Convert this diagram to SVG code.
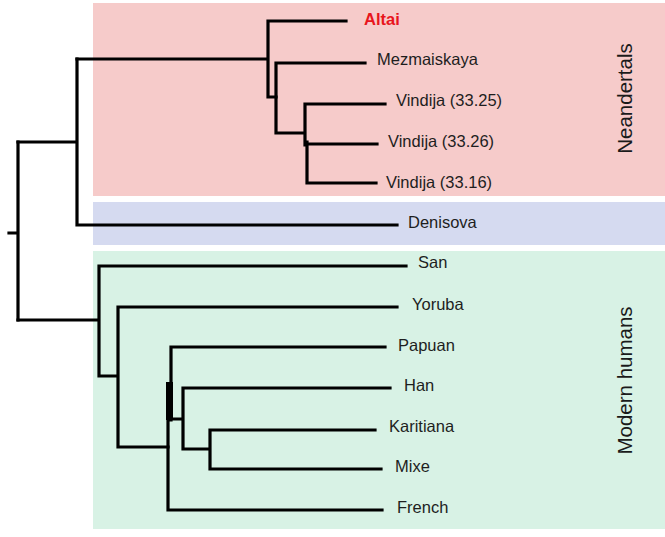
<svg xmlns="http://www.w3.org/2000/svg" width="665" height="537" viewBox="0 0 665 537">
<style>
.br{fill:none;stroke:#000;stroke-width:3.2;stroke-linejoin:miter;stroke-linecap:square}
.lb{font-family:"Liberation Sans",Arial,sans-serif;font-size:16.5px;fill:#1e1e1e}
.grp{font-family:"Liberation Sans",Arial,sans-serif;font-size:20.5px;fill:#1a1a1a}
</style>
<rect width="665" height="537" fill="#fff"/>
<g id="bands">
<rect x="93" y="3" width="572" height="193" fill="#f6cbca"/>
<rect x="93" y="202" width="572" height="43" fill="#d5daf0"/>
<rect x="93" y="251" width="572" height="278" fill="#d8f2e5"/>
</g>
<g id="connectors">
<path class="br" d="M9,233H18M18,142V320"/>
<path class="br" d="M18,142H77M77,59V225M77,225H397"/>
<path class="br" d="M77,59H268M268,21V97H276M268,21H346"/>
<path class="br" d="M276,63V133M276,63H365M276,133H305M305,104V145M307,142V183M305,104H385M307,144H377M307,183H376"/>
<path class="br" d="M18,320H99M99,266V376M99,266H406M99,376H118M118,307V447M118,307H397M118,447H168"/>
<path class="br" d="M171,347V420M168,420V510M171,347H385M168,510H382"/>
<path d="M166,382H173V420H166Z" fill="#000"/>
<path class="br" d="M171,419H183M183,388V449M183,388H390M183,449H210M210,430V469M210,430H375M210,469H381"/>
</g>
<g id="n-altai"><text x="364" y="25" font-family="Liberation Sans,Arial,sans-serif" font-size="16.5" font-weight="bold" fill="#e8151c">Altai</text></g>
<g id="n-mezmaiskaya"><text class="lb" x="377" y="65">Mezmaiskaya</text></g>
<g id="n-vindija3325"><text class="lb" x="396" y="106">Vindija (33.25)</text></g>
<g id="n-vindija3326"><text class="lb" x="388" y="147">Vindija (33.26)</text></g>
<g id="n-vindija3316"><text class="lb" x="386" y="188">Vindija (33.16)</text></g>
<g id="n-denisova"><text class="lb" x="408" y="228">Denisova</text></g>
<g id="n-san"><text class="lb" x="418" y="268">San</text></g>
<g id="n-yoruba"><text class="lb" x="412" y="310">Yoruba</text></g>
<g id="n-papuan"><text class="lb" x="398" y="351">Papuan</text></g>
<g id="n-han"><text class="lb" x="404" y="391">Han</text></g>
<g id="n-karitiana"><text class="lb" x="389" y="432">Karitiana</text></g>
<g id="n-mixe"><text class="lb" x="395" y="472">Mixe</text></g>
<g id="n-french"><text class="lb" x="397" y="513">French</text></g>
<g id="g-neandertals"><text class="grp" transform="translate(632,98.5) rotate(-90)" text-anchor="middle">Neandertals</text></g>
<g id="g-modern"><text class="grp" transform="translate(632,380.5) rotate(-90)" text-anchor="middle">Modern humans</text></g>
</svg>
